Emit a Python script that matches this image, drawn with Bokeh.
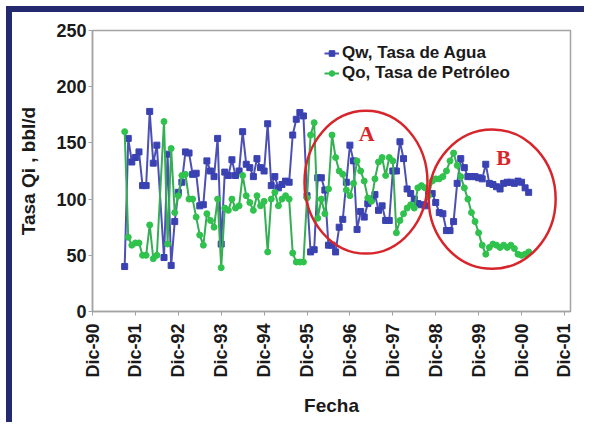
import math
from bokeh.plotting import figure
from bokeh.models import Legend, LegendItem, FixedTicker, Range1d
from bokeh.embed import file_html
from bokeh.resources import INLINE

# months since Dic-90 (no reading in month 19)
months = list(range(9, 19)) + list(range(20, 123))

qw = [40, 154, 133, 137, 142, 112, 112, 178, 132, 148,
      48, 140, 41, 80, 106, 115, 142, 141, 122, 123,
      94, 95, 134, 125, 120, 154, 60, 124, 121, 135,
      121, 125, 160, 131, 128, 120, 136, 128, 125, 167,
      112, 120, 110, 113, 116, 115, 157, 171, 177, 174,
      103, 53, 55, 119, 119, 108, 59, 59, 53, 75,
      82, 115, 148, 134, 73, 89, 84, 96, 100, 104,
      90, 94, 81, 81, 125, 125, 151, 136, 109, 105,
      100, 96, 95, 94, 105, 105, 97, 88, 87, 72,
      72, 80, 114, 136, 128, 120, 120, 120, 119, 118,
      131, 114, 113, 111, 109, 114, 115, 115, 114, 116,
      115, 110, 106]

qo = [160, 66, 59, 61, 61, 50, 50, 77, 47, 50,
      169, 60, 145, 88, 103, 121, 122, 100, 100, 84,
      68, 59, 87, 81, 75, 100, 39, 92, 90, 100,
      92, 94, 121, 103, 97, 90, 103, 94, 98, 53,
      100, 106, 94, 100, 103, 100, 52, 44, 44, 44,
      101, 157, 168, 83, 100, 87, 109, 157, 137, 125,
      122, 108, 103, 114, 134, 125, 116, 101, 98, 118,
      133, 137, 121, 137, 134, 70, 81, 87, 92, 95,
      92, 110, 112, 110, 103, 116, 118, 118, 120, 125,
      134, 141, 130, 120, 110, 100, 88, 80, 70, 59,
      51, 57, 60, 59, 57, 59, 57, 59, 56, 51,
      50, 51, 53]

tick_months = [0, 12, 24, 36, 48, 60, 72, 84, 96, 108, 120, 132]
tick_labels = ["Dic-90", "Dic-91", "Dic-92", "Dic-93", "Dic-94", "Dic-95",
               "Dic-96", "Dic-97", "Dic-98", "Dic-99", "Dic-00", "Dic-01"]
y_ticks = [0, 50, 100, 150, 200, 250]

# highlighted zones: centre month, centre rate, width (months), height (bbl/d)
zone_names = ["A", "B"]
zone_x = [76.5, 111.8]
zone_y = [115, 100]
zone_w = [34.4, 35.5]
zone_h = [127, 124]
zone_label_x = [76.7, 115.0]
zone_label_y = [158, 137]

BLUE = "#3a42b2"
BLUE_LINE = "#4c50b4"
GREEN = "#2fc24c"
GREEN_LINE = "#36ae54"
RED = "#d6262b"
GRAY = "#a3a3a3"

p = figure(width=578, height=416, output_backend="svg", toolbar_location=None,
           x_range=Range1d(0, 133.7), y_range=Range1d(0, 250),
           min_border_left=80, min_border_right=20, min_border_top=18,
           min_border_bottom=117)
p.styles = {"border-top": "6px solid #232a70", "border-left": "6px solid #232a70",
            "margin-top": "6px", "margin-left": "6px"}

p.xgrid.visible = False
p.ygrid.visible = False
p.outline_line_color = GRAY
p.outline_line_width = 1.5
p.background_fill_color = "white"
p.border_fill_color = "white"

FONT = "Liberation Sans"
for ax in (p.xaxis[0], p.yaxis[0]):
    ax.axis_line_color = GRAY
    ax.axis_line_width = 1.5
    ax.major_tick_line_color = GRAY
    ax.major_tick_out = 4
    ax.major_tick_in = 0
    ax.minor_tick_line_color = None
    ax.major_label_text_font = FONT
    ax.major_label_text_font_style = "bold"
    ax.major_label_text_font_size = "18px"
    ax.major_label_text_color = "#1a1a1a"
    ax.axis_label_text_font = FONT
    ax.axis_label_text_font_style = "bold"
    ax.axis_label_text_font_size = "19px"
    ax.axis_label_text_color = "#1a1a1a"

p.xaxis.ticker = FixedTicker(ticks=tick_months)
p.xaxis.major_label_overrides = {m: l for m, l in zip(tick_months, tick_labels)}
p.xaxis.major_label_orientation = math.pi / 2
p.xaxis.major_label_standoff = 8
p.xaxis.axis_label = "Fecha"
p.xaxis.axis_label_standoff = 14

p.yaxis.ticker = FixedTicker(ticks=y_ticks)
p.yaxis.major_label_standoff = 2
p.yaxis.axis_label = "Tasa Qi , bbl/d"
p.yaxis.axis_label_standoff = 14

lw = p.line(months, qw, line_color=BLUE_LINE, line_width=2)
mw = p.scatter(months, qw, marker="square", size=6, fill_color=BLUE, line_color=BLUE)
lo = p.line(months, qo, line_color=GREEN_LINE, line_width=2)
mo = p.scatter(months, qo, marker="circle", size=6, fill_color=GREEN, line_color=GREEN)

p.ellipse(x=zone_x, y=zone_y, width=zone_w, height=zone_h,
          fill_color=None, line_color=RED, line_width=2.5)
p.text(x=zone_label_x, y=zone_label_y, text=zone_names, text_color=RED,
       text_font={"value": "Liberation Serif"}, text_font_style="bold",
       text_font_size="22px", text_align="center", text_baseline="middle")

legend = Legend(items=[LegendItem(label="Qw, Tasa de Agua", renderers=[lw, mw]),
                       LegendItem(label="Qo, Tasa de Petróleo", renderers=[lo, mo])],
                location=(232, 228), orientation="vertical",
                label_text_font=FONT, label_text_font_size="17px",
                label_text_font_style="bold", label_text_color="#1a1a1a",
                glyph_width=15, glyph_height=14, label_height=14,
                label_standoff=3, spacing=-3, padding=0, margin=0,
                border_line_color=None, background_fill_alpha=0)
p.add_layout(legend, "center")

open("out.html", "w").write(file_html(p, INLINE))
